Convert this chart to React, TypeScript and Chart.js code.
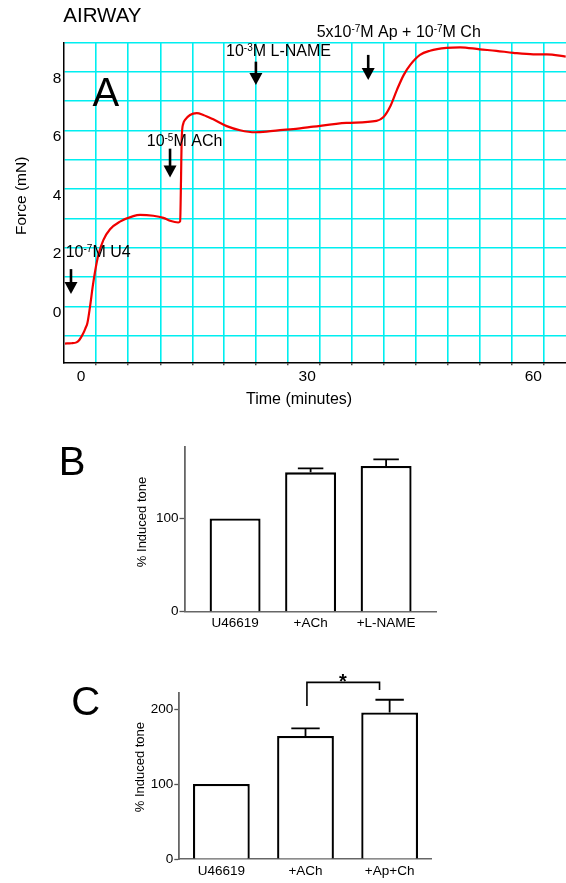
import React, { useEffect, useRef } from "react";
import { Chart, registerables } from "chart.js";

Chart.register(...registerables);

const FONT = "'Liberation Sans', Arial, Helvetica, sans-serif";
const CYAN = "#00eef0";
const RED = "#f00000";
const INK = "#000000";
const GREY = "#666666";
const CLEAR = "rgba(0,0,0,0)";

Chart.defaults.font.family = FONT;

// ---------- Panel A : force trace ----------
const traceTime = [
  -2.12, -1.3, -0.6, -0.2, 0.3, 0.6, 0.84, 1.19, 1.55, 1.86, 2.3, 2.96, 3.85, 5.17, 6.94, 7.83, 9.59,
  10.92, 11.81, 12.9, 13.15, 13.27, 13.35, 13.57, 13.8, 14.46, 15.35, 16.22, 17.55, 19.33, 21.1, 23.1,
  24.6, 26.8, 29.05, 30.8, 35.2, 39.2, 40.1, 41.0, 41.9, 42.8, 43.65, 44.97, 46.3, 48.5, 50.3, 52.9,
  55.1, 57.35, 60.0, 61.8, 64.3,
];
const traceForce = [
  -1.05, -1.04, -1.01, -0.92, -0.7, -0.52, -0.36, 0.2, 0.89, 1.4, 1.97, 2.48, 2.85, 3.11, 3.3, 3.34, 3.31,
  3.24, 3.14, 3.08, 3.12, 4.6, 5.9, 6.46, 6.58, 6.75, 6.81, 6.75, 6.6, 6.37, 6.23, 6.16,
  6.18, 6.24, 6.29, 6.35, 6.48, 6.55, 6.67, 7.03, 7.6, 8.11, 8.45, 8.8, 8.94, 9.04, 9.06, 8.99,
  8.94, 8.87, 8.82, 8.82, 8.74,
];
const timeTickLabels = [0, 30, 60];
const timeGridTicks = [1.95, 6.25, 10.55, 14.8, 18.95, 23.17, 27.37, 31.7, 35.97, 40.18, 44.4, 48.65, 52.91, 57.19, 61.37];
const forceTickLabels = [0, 2, 4, 6, 8];
const forceGridTicks = [-0.79, 0.22, 1.22, 2.22, 3.22, 4.22, 5.23, 6.21, 7.23, 8.22, 9.22];

const doseTimes = [-1.33, 11.81, 23.2, 38.1];
const doseArrowTop = [1.49, 5.6, 8.57, 8.8];
const doseArrowTip = [0.64, 4.62, 7.77, 7.94];
const doseLabels = [
  ["10", "^-7", "M U4"],
  ["10", "^-5", "M ACh"],
  ["10", "^-3", "M L-NAME"],
  ["5x10", "^-7", "M Ap + 10", "^-7", "M Ch"],
];
const doseLabelTime = [-2.03, 8.72, 19.24, 31.27];
const doseLabelForce = [1.91, 5.68, 8.76, 9.42];

// ---------- Panel B ----------
const bCategories = ["U46619", "+ACh", "+L-NAME"];
const bValues = [100, 149.5, 156.3];
const bErrors = [0, 4.3, 7.1];
const bTicks = [0, 100];

// ---------- Panel C ----------
const cCategories = ["U46619", "+ACh", "+Ap+Ch"];
const cValues = [100, 164, 195.5];
const cErrors = [0, 10.3, 16.9];
const cTicks = [0, 100, 200];
const cSigFrom = 2.017;
const cSigTo = 2.88;
const cSigTop = 235.6;
const cSigLegEnds = [204, 225.3];
const cSigStarX = 2.445;
const cSigStarY = 243;

const tickList = (...lists: number[][]) =>
  lists.flat().sort((a, b) => a - b).map((value) => ({ value }));

function drawRich(ctx: CanvasRenderingContext2D, x: number, y: number, parts: string[], size: number, supSize: number, raise: number) {
  let cx = x;
  for (const part of parts) {
    const sup = part.startsWith("^");
    const txt = sup ? part.slice(1) : part;
    ctx.font = `${sup ? supSize : size}px ${FONT}`;
    ctx.fillText(txt, cx, sup ? y - raise : y);
    cx += ctx.measureText(txt).width;
  }
}

function drawArrow(ctx: CanvasRenderingContext2D, px: number, top: number, tip: number) {
  const headH = 12;
  const headW = 13;
  ctx.lineWidth = 2.6;
  ctx.beginPath();
  ctx.moveTo(px, top);
  ctx.lineTo(px, tip - headH + 1);
  ctx.stroke();
  ctx.beginPath();
  ctx.moveTo(px - headW / 2, tip - headH);
  ctx.lineTo(px + headW / 2, tip - headH);
  ctx.lineTo(px, tip);
  ctx.closePath();
  ctx.fill();
}

const panelAPlugin = {
  id: "panelA",
  afterDraw(chart: any) {
    const { ctx } = chart;
    const x = chart.scales.x;
    const y = chart.scales.y;
    ctx.save();
    ctx.fillStyle = INK;
    ctx.strokeStyle = INK;
    ctx.textAlign = "left";
    ctx.textBaseline = "alphabetic";
    ctx.font = `40px ${FONT}`;
    ctx.fillText("A", 92.5, 106);
    doseTimes.forEach((t, i) => {
      drawArrow(ctx, x.getPixelForValue(t), y.getPixelForValue(doseArrowTop[i]), y.getPixelForValue(doseArrowTip[i]));
      drawRich(ctx, x.getPixelForValue(doseLabelTime[i]), y.getPixelForValue(doseLabelForce[i]), doseLabels[i], 16, 10, 5);
    });
    ctx.restore();
  },
};

function makeA(): any {
  const isTimeLabel = (v: number) => timeTickLabels.includes(v);
  const isForceLabel = (v: number) => forceTickLabels.includes(v);
  return {
    type: "line",
    data: {
      datasets: [
        {
          data: traceTime.map((t, i) => ({ x: t, y: traceForce[i] })),
          borderColor: RED,
          borderWidth: 2.2,
          pointRadius: 0,
          fill: false,
          cubicInterpolationMode: "monotone",
        },
      ],
    },
    options: {
      responsive: false,
      animation: false,
      devicePixelRatio: 1,
      layout: { padding: { left: 12.2, top: 4.5, right: 0, bottom: 10.4 } },
      plugins: {
        legend: { display: false },
        tooltip: { enabled: false },
        title: {
          display: true,
          text: "AIRWAY",
          align: "start",
          fullSize: false,
          color: INK,
          font: { family: FONT, size: 20.5, weight: "normal", lineHeight: 1.2 },
          padding: { top: 0, bottom: 13.2 },
        },
      },
      scales: {
        x: {
          type: "linear",
          min: -2.35,
          max: 64.34,
          afterBuildTicks: (s: any) => {
            s.ticks = tickList(timeTickLabels, timeGridTicks);
          },
          afterFit: (s: any) => {
            s.height = 47.3;
          },
          ticks: {
            autoSkip: false,
            maxRotation: 0,
            padding: 2,
            color: INK,
            font: { family: FONT, size: 15.5 },
            callback: (v: number) => (isTimeLabel(v) ? String(v) : ""),
          },
          grid: {
            color: (c: any) => (c.tick && isTimeLabel(c.tick.value) ? CLEAR : CYAN),
            lineWidth: 1.6,
            drawTicks: true,
            tickLength: 3,
            tickWidth: 1.2,
            tickColor: (c: any) => (c.tick && isTimeLabel(c.tick.value) ? CLEAR : "#222"),
          },
          border: { color: INK, width: 1.5 },
          title: {
            display: true,
            text: "Time (minutes)       ",
            color: INK,
            font: { family: FONT, size: 16 },
            padding: 0,
          },
        },
        y: {
          type: "linear",
          min: -1.69,
          max: 9.23,
          afterBuildTicks: (s: any) => {
            s.ticks = tickList(forceTickLabels, forceGridTicks);
          },
          afterFit: (s: any) => {
            s.width = 51.1;
          },
          ticks: {
            autoSkip: false,
            padding: 2,
            color: INK,
            font: { family: FONT, size: 15.5 },
            callback: (v: number) => (isForceLabel(v) ? String(v) : ""),
          },
          grid: {
            color: (c: any) => (c.tick && isForceLabel(c.tick.value) ? CLEAR : CYAN),
            lineWidth: 1.6,
            drawTicks: false,
          },
          border: { color: INK, width: 1.5 },
          title: {
            display: true,
            text: "   Force (mN)",
            color: INK,
            font: { family: FONT, size: 15.5 },
            padding: 0,
          },
        },
      },
    },
    plugins: [panelAPlugin],
  };
}

function errorBarPlugin(errors: number[]) {
  return {
    id: "errorBars",
    afterDatasetsDraw(chart: any) {
      const { ctx } = chart;
      const y = chart.scales.y;
      const meta = chart.getDatasetMeta(0);
      const values = chart.data.datasets[0].data;
      ctx.save();
      ctx.strokeStyle = INK;
      ctx.lineWidth = 1.8;
      meta.data.forEach((bar: any, i: number) => {
        if (!errors[i]) return;
        const top = y.getPixelForValue(values[i].y + errors[i]);
        const half = bar.width / 4;
        ctx.beginPath();
        ctx.moveTo(bar.x, bar.y);
        ctx.lineTo(bar.x, top);
        ctx.moveTo(bar.x - half, top);
        ctx.lineTo(bar.x + half, top);
        ctx.stroke();
      });
      ctx.restore();
    },
  };
}

function letterPlugin(letter: string, lx: number, ly: number) {
  return {
    id: "panelLetter",
    afterDraw(chart: any) {
      const { ctx } = chart;
      ctx.save();
      ctx.fillStyle = INK;
      ctx.textAlign = "left";
      ctx.textBaseline = "alphabetic";
      ctx.font = `40px ${FONT}`;
      ctx.fillText(letter, lx, ly);
      ctx.restore();
    },
  };
}

const sigPlugin = {
  id: "significance",
  afterDraw(chart: any) {
    const { ctx } = chart;
    const x = chart.scales.x;
    const y = chart.scales.y;
    const x1 = x.getPixelForValue(cSigFrom);
    const x2 = x.getPixelForValue(cSigTo);
    const yt = y.getPixelForValue(cSigTop);
    ctx.save();
    ctx.strokeStyle = INK;
    ctx.fillStyle = INK;
    ctx.lineWidth = 1.6;
    ctx.beginPath();
    ctx.moveTo(x1, y.getPixelForValue(cSigLegEnds[0]));
    ctx.lineTo(x1, yt);
    ctx.lineTo(x2, yt);
    ctx.lineTo(x2, y.getPixelForValue(cSigLegEnds[1]));
    ctx.stroke();
    const fs = 20;
    ctx.font = `bold ${fs}px ${FONT}`;
    ctx.textAlign = "center";
    ctx.textBaseline = "alphabetic";
    ctx.fillText("*", x.getPixelForValue(cSigStarX), y.getPixelForValue(cSigStarY) + 0.58 * fs);
    ctx.restore();
  },
};

function barConfig(p: {
  cats: string[];
  vals: number[];
  errs: number[];
  yTicks: number[];
  yMax: number;
  xMin: number;
  xMax: number;
  padding: any;
  yWidth: number;
  xHeight: number;
  xTickPad: number;
  yTitle: string;
  extra: any[];
}): any {
  const positions = p.cats.map((_, i) => i + 1);
  return {
    type: "bar",
    data: {
      datasets: [
        {
          data: p.vals.map((v, i) => ({ x: positions[i], y: v })),
          backgroundColor: "#ffffff",
          borderColor: INK,
          borderWidth: 2.3,
          borderSkipped: "start",
          categoryPercentage: 1,
          barPercentage: 0.675,
        },
      ],
    },
    options: {
      responsive: false,
      animation: false,
      devicePixelRatio: 1,
      layout: { padding: p.padding },
      plugins: { legend: { display: false }, tooltip: { enabled: false }, title: { display: false } },
      scales: {
        x: {
          type: "linear",
          offset: false,
          min: p.xMin,
          max: p.xMax,
          afterBuildTicks: (s: any) => {
            s.ticks = tickList(positions);
          },
          afterFit: (s: any) => {
            s.height = p.xHeight;
          },
          ticks: {
            autoSkip: false,
            maxRotation: 0,
            padding: p.xTickPad,
            color: INK,
            font: { family: FONT, size: 13.5 },
            callback: (v: number) => p.cats[v - 1] ?? "",
          },
          grid: { display: false, drawTicks: false, offset: false },
          border: { color: GREY, width: 1.5 },
        },
        y: {
          type: "linear",
          min: 0,
          max: p.yMax,
          afterBuildTicks: (s: any) => {
            s.ticks = tickList(p.yTicks);
          },
          afterFit: (s: any) => {
            s.width = p.yWidth;
          },
          ticks: { padding: 1, color: INK, font: { family: FONT, size: 13.5 } },
          grid: {
            drawOnChartArea: false,
            drawTicks: true,
            tickLength: 5,
            tickWidth: 1.3,
            tickColor: "#555",
            color: "#555",
          },
          border: { color: GREY, width: 1.8 },
          title: {
            display: true,
            text: p.yTitle,
            color: INK,
            font: { family: FONT, size: 13 },
            padding: 0,
          },
        },
      },
    },
    plugins: [errorBarPlugin(p.errs), ...p.extra],
  };
}

function makeB(): any {
  return barConfig({
    cats: bCategories,
    vals: bValues,
    errs: bErrors,
    yTicks: bTicks,
    yMax: 177,
    xMin: 0.33,
    xMax: 3.67,
    padding: { left: 134.2, top: 26.7, right: 129.3, bottom: 0 },
    yWidth: 50.3,
    xHeight: 28.3,
    xTickPad: 3.5,
    yTitle: "    % Induced tone",
    extra: [letterPlugin("B", 58.7, 55)],
  });
}

function makeC(): any {
  return barConfig({
    cats: cCategories,
    vals: cValues,
    errs: cErrors,
    yTicks: cTicks,
    yMax: 221,
    xMin: 0.5,
    xMax: 3.5,
    padding: { left: 132.2, top: 53.3, right: 134.3, bottom: 0 },
    yWidth: 47.1,
    xHeight: 24,
    xTickPad: 4.6,
    yTitle: "     % Induced tone",
    extra: [letterPlugin("C", 71.3, 74.5), sigPlugin],
  });
}

function ChartCanvas({ top, height, make }: { top: number; height: number; make: () => any }) {
  const ref = useRef<HTMLCanvasElement>(null);
  useEffect(() => {
    const chart = new Chart(ref.current as HTMLCanvasElement, make());
    return () => chart.destroy();
  }, [make]);
  return (
    <canvas
      ref={ref}
      width={566}
      height={height}
      style={{ position: "absolute", left: 0, top, width: 566, height, display: "block" }}
    />
  );
}

export default function App() {
  return (
    <div style={{ position: "absolute", left: 0, top: 0, width: 566, height: 883, background: "#ffffff", overflow: "hidden" }}>
      <ChartCanvas top={0} height={420} make={makeA} />
      <ChartCanvas top={420} height={220} make={makeB} />
      <ChartCanvas top={640} height={243} make={makeC} />
    </div>
  );
}
